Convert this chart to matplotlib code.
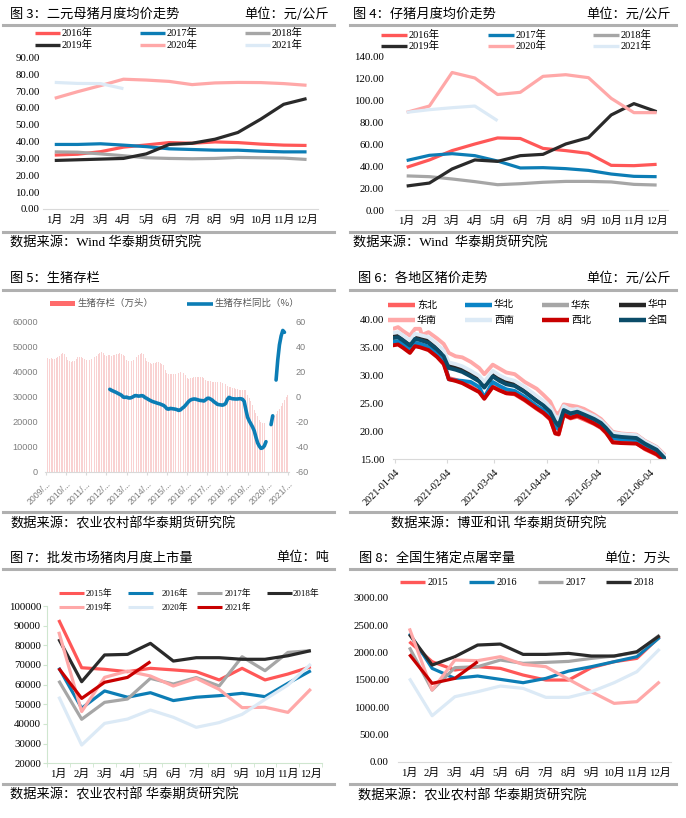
import numpy as np
import pandas as pd
import matplotlib
matplotlib.use("Agg")
import matplotlib.pyplot as plt
from matplotlib.lines import Line2D
from matplotlib.patches import Rectangle

plt.rcParams["font.family"] = ["Liberation Serif", "Noto Sans CJK SC"]
plt.rcParams["axes.unicode_minus"] = False

# ---------------- 数据 ----------------
months = ["1月", "2月", "3月", "4月", "5月", "6月", "7月", "8月", "9月", "10月", "11月", "12月"]

# 图3 二元母猪月度均价 (元/公斤)
sow_2016 = [32.0, 32.5, 34.0, 36.7, 38.0, 39.4, 39.0, 39.8, 39.4, 38.5, 37.9, 37.7]
sow_2017 = [38.3, 38.3, 38.7, 37.9, 37.0, 35.7, 35.3, 34.9, 34.9, 34.3, 33.9, 33.9]
sow_2018 = [33.9, 33.7, 32.7, 31.6, 30.4, 30.0, 29.8, 30.0, 30.6, 30.4, 30.2, 29.4]
sow_2019 = [28.8, 29.2, 29.6, 30.0, 32.7, 38.3, 39.0, 41.4, 45.4, 53.3, 62.1, 65.5]
sow_2020 = [65.7, 69.6, 73.2, 77.0, 76.5, 75.7, 73.8, 74.8, 75.1, 75.0, 74.4, 73.4]
sow_2021 = [75.1, 74.5, 74.4, 71.4]

# 图4 仔猪月度均价 (元/公斤)
piglet_2016 = [38.8, 45.5, 54.0, 60.0, 65.5, 65.0, 56.0, 54.0, 51.5, 40.6, 40.3, 41.5]
piglet_2017 = [45.0, 49.7, 51.2, 49.4, 44.5, 38.2, 38.5, 37.6, 36.0, 32.7, 30.6, 30.3]
piglet_2018 = [31.0, 30.3, 28.2, 25.8, 23.0, 23.9, 25.2, 26.0, 26.0, 25.5, 23.3, 22.7]
piglet_2019 = [21.8, 24.5, 37.3, 45.5, 44.2, 49.4, 50.6, 60.0, 65.8, 86.4, 96.7, 89.4]
piglet_2020 = [88.8, 94.5, 125.0, 120.0, 105.0, 107.0, 121.5, 123.0, 120.3, 101.5, 88.5, 88.5]
piglet_2021 = [88.8, 91.2, 93.0, 94.5, 81.2]

# 图5 生猪存栏 (万头), 2009/01 - 2021/01 月度
stock_years = list(range(2009, 2022))
stock_2009 = [45500, 45200, 44900, 45300, 45000, 44800, 45300, 45700, 46200, 46800, 47300, 47000]
stock_2010 = [45800, 44500, 43900, 43700, 43900, 44200, 44800, 45500, 45600, 45500, 45300, 44700]
stock_2011 = [44500, 44300, 44600, 44800, 45300, 45700, 46200, 46800, 47300, 47600, 47300, 46600]
stock_2012 = [46200, 46400, 46600, 46200, 46300, 46500, 46700, 47000, 47300, 47000, 46600, 45900]
stock_2013 = [44500, 43900, 44100, 44200, 44600, 45200, 45800, 46600, 47000, 47300, 46800, 45200]
stock_2014 = [43900, 43600, 43200, 43000, 43100, 43300, 43500, 43600, 43400, 43000, 42500, 40500]
stock_2015 = [39200, 39000, 38900, 38800, 38900, 39000, 39100, 39300, 39500, 39400, 39200, 38600]
stock_2016 = [37200, 37000, 37200, 37400, 37600, 37700, 37800, 37900, 37800, 37600, 37400, 36600]
stock_2017 = [36300, 36100, 36000, 35900, 35800, 35800, 35700, 35600, 35600, 35500, 35300, 34800]
stock_2018 = [34200, 33800, 33700, 33500, 33200, 33000, 32800, 32700, 32600, 32600, 32600, 32400]
stock_2019 = [30600, 29500, 28000, 26500, 24600, 23200, 22000, 20700, 19700, 19200, 19500, 20000]
stock_2020 = [np.nan, np.nan, 20500, 21200, 22100, 23000, 24000, 25000, 26200, 27400, 28600, 29700]
stock_2021 = [30400]

# 生猪存栏同比 (%)
yoy_2012 = [np.nan, np.nan, 5.6, 4.8, 4.2, 3.6, 3.0, 2.2, 1.6, 0.8, -0.6, -0.8]
yoy_2013 = [-0.6, -1.2, -1.3, -0.9, -0.2, 0.6, 0.5, 0.2, 0.3, 0.6, 0.2, -1.0]
yoy_2014 = [-1.6, -2.5, -3.2, -3.9, -4.4, -4.8, -5.3, -5.7, -6.1, -6.7, -7.2, -8.3]
yoy_2015 = [-9.9, -10.2, -9.6, -9.8, -10.0, -10.2, -10.6, -11.2, -10.8, -9.6, -8.6, -7.2]
yoy_2016 = [-5.6, -4.0, -2.9, -2.4, -2.1, -2.2, -2.6, -3.0, -3.3, -3.4, -3.7, -2.8]
yoy_2017 = [-1.6, -1.5, -2.2, -3.0, -4.3, -5.2, -6.3, -6.6, -6.8, -7.0, -6.6, -5.6]
yoy_2018 = [-2.4, -0.8, -1.5, -1.9, -2.0, -2.1, -2.1, -1.9, -1.9, -2.3, -4.0, -10.5]
yoy_2019 = [-16.5, -19.5, -22.0, -24.4, -27.5, -32.5, -37.0, -39.6, -41.4, -41.0, -39.5, -36.1]
yoy_2020 = [np.nan, np.nan, -22.5, -15.5, np.nan, 13.0, 29.0, 41.0, 48.0, 52.5, 51.0, np.nan]
yoy_2021 = [np.nan]

# 图6 各地区猪价 (元/公斤), 自2021-01-04起的天数
region_days = [0, 2, 5, 9, 12, 15, 16, 20, 25, 29, 32, 36, 40, 45, 50, 53, 58, 62, 66, 71,
               77, 84, 88, 92, 95, 97, 100, 104, 108, 112, 118, 122, 125, 129, 134, 143, 148, 155, 160]
price_dongbei = [35.6, 35.7, 35.1, 34.2, 35.4, 35.2, 35.1, 34.7, 33.5, 32.2, 29.5, 29.2, 28.8, 28.0, 27.1, 26.0, 28.0, 27.4, 26.8, 26.6,
                 25.5, 24.0, 23.2, 22.1, 19.7, 19.4, 22.9, 22.3, 22.6, 22.1, 21.3, 20.6, 19.7, 18.3, 18.0, 17.9, 16.8, 15.8, 14.6]
price_huabei = [36.0, 36.1, 35.5, 34.6, 35.8, 35.6, 35.5, 35.1, 33.8, 32.4, 29.3, 29.1, 29.0, 28.8, 27.9, 26.0, 28.8, 28.1, 27.5, 27.2,
                26.1, 24.5, 23.8, 22.8, 20.8, 20.4, 23.2, 22.6, 22.9, 22.5, 21.8, 21.1, 20.2, 18.8, 18.6, 18.4, 17.5, 16.4, 15.0]
price_huadong = [37.3, 37.4, 36.8, 35.9, 37.1, 36.9, 36.8, 36.4, 35.2, 34.0, 31.8, 31.5, 31.1, 30.3, 29.4, 28.3, 30.3, 29.5, 28.9, 28.6,
                 27.5, 25.9, 25.1, 24.0, 22.1, 21.4, 24.2, 23.6, 23.9, 23.4, 22.6, 21.9, 21.0, 19.8, 19.5, 19.3, 18.2, 17.1, 15.5]
price_huazhong = [37.1, 37.2, 36.6, 35.7, 36.9, 36.7, 36.6, 36.2, 35.0, 33.8, 31.7, 31.4, 31.0, 30.2, 29.3, 28.2, 30.2, 29.4, 28.8, 28.5,
                  27.4, 25.8, 25.0, 23.9, 22.0, 21.3, 24.1, 23.5, 23.8, 23.3, 22.5, 21.8, 20.9, 19.5, 19.3, 19.1, 18.0, 16.9, 15.3]
price_huanan = [38.4, 38.6, 37.9, 37.1, 38.3, 38.3, 37.2, 37.7, 36.6, 35.6, 34.0, 33.4, 33.2, 32.4, 31.3, 30.2, 31.9, 31.2, 30.5, 30.2,
                28.8, 27.6, 26.5, 25.3, 23.4, 23.1, 24.8, 24.6, 24.4, 24.0, 23.0, 22.2, 21.2, 19.9, 19.6, 19.4, 18.3, 17.2, 15.7]
price_xinan = [37.6, 37.7, 37.1, 36.2, 37.4, 37.2, 37.1, 36.8, 35.6, 34.4, 32.3, 32.0, 31.6, 30.8, 29.9, 28.8, 30.8, 30.0, 29.4, 29.0,
               27.9, 26.3, 25.4, 24.3, 22.6, 22.0, 24.5, 23.8, 24.0, 23.5, 22.7, 21.9, 21.0, 19.7, 19.5, 19.3, 18.2, 17.1, 15.5]
price_xibei = [35.4, 35.5, 34.9, 34.0, 35.2, 35.0, 34.9, 34.5, 33.3, 32.0, 29.3, 29.0, 28.6, 27.8, 27.0, 25.8, 27.9, 27.3, 26.8, 26.7,
               25.6, 24.1, 23.3, 22.2, 19.6, 19.5, 23.0, 22.4, 22.8, 22.3, 21.4, 20.7, 19.8, 18.0, 17.9, 17.8, 16.9, 15.9, 14.7]
price_national = [36.7, 36.8, 36.2, 35.3, 36.5, 36.3, 36.2, 35.8, 34.6, 33.4, 31.3, 31.0, 30.6, 29.8, 28.9, 27.8, 29.8, 29.0, 28.4, 28.1,
                  27.0, 25.4, 24.6, 23.5, 21.7, 21.0, 23.8, 23.2, 23.5, 23.0, 22.2, 21.5, 20.6, 19.2, 19.0, 18.8, 17.8, 16.7, 15.1]

# 图7 批发市场猪肉月度上市量 (吨)
pork_2015 = [92900, 68600, 67800, 66600, 68300, 67500, 66600, 62400, 68300, 62400, 65400, 69100]
pork_2016 = [68600, 48000, 56800, 53600, 55900, 51900, 53600, 54400, 55600, 53900, 60700, 67100]
pork_2017 = [62000, 42400, 51000, 52700, 63200, 60300, 63600, 59300, 74200, 67100, 76400, 77300]
pork_2018 = [83200, 61500, 75100, 75400, 81000, 72000, 73700, 73700, 72900, 72900, 74700, 77300]
pork_2019 = [86900, 46300, 63700, 66900, 64400, 59300, 63200, 57600, 48300, 48500, 45900, 57800]
pork_2020 = [53900, 29300, 40300, 42500, 47100, 43400, 38300, 40700, 44900, 52500, 59800, 70500]
pork_2021 = [68300, 53000, 61200, 63700, 71700]

# 图8 全国生猪定点屠宰量 (万头)
slaughter_2015 = [2195, 1829, 1677, 1738, 1707, 1585, 1494, 1494, 1720, 1829, 1890, 2287]
slaughter_2016 = [2348, 1707, 1524, 1567, 1506, 1445, 1524, 1658, 1738, 1829, 1921, 2274]
slaughter_2017 = [2091, 1311, 1720, 1738, 1860, 1799, 1817, 1835, 1890, 1933, 2000, 2317]
slaughter_2018 = [2329, 1768, 1921, 2134, 2152, 1963, 1963, 1982, 1933, 1933, 2012, 2305]
slaughter_2019 = [2439, 1311, 1860, 1848, 1921, 1780, 1738, 1506, 1280, 1067, 1098, 1463]
slaughter_2020 = [1524, 841, 1189, 1280, 1384, 1341, 1177, 1177, 1280, 1445, 1646, 2061]
slaughter_2021 = [1963, 1433, 1524, 1829]

# ---------------- 样式 ----------------
RED = "#FF5757"
BLUE = "#0C7DB5"
GRAY = "#A6A6A6"
BLACK = "#2A2A2A"
PINK = "#FFA8A8"
LBLUE = "#DCEAF6"
DRED = "#C80000"
NAVY = "#0B4C69"
RULE = "#B0B0B0"
AXIS = "#D9D9D9"
CJK = ["Noto Sans CJK SC"]
SANS = ["Liberation Sans", "Noto Sans CJK SC"]

W, H = 686, 818
fig = plt.figure(figsize=(W / 100, H / 100), dpi=100)
fig.patch.set_facecolor("white")


def add_ax(l, t, r, b):
    return fig.add_axes([l / W, 1 - b / H, (r - l) / W, (b - t) / H])


def rule(x0, x1, y):
    fig.add_artist(Line2D([x0 / W, x1 / W], [1 - y / H] * 2, color=RULE, lw=2.2))


def txt(x, y, s, size, ha="left", **kw):
    fig.text(x / W, 1 - y / H, s, fontsize=size, ha=ha, va="center", **kw)


def leg_line(x0, x1, y, color, lw=2.4):
    fig.add_artist(Line2D([x0 / W, x1 / W], [1 - y / H] * 2, color=color, lw=lw,
                          solid_capstyle="butt"))


def header(x0, x1, title, unit, y_title, y_rule, src, x_src, y_src, y_rule2, x_title=None):
    txt(x_title if x_title else x0 + 7, y_title, title, 9.5, family=CJK)
    if unit:
        txt(x1 - 5, y_title, unit, 9.5, ha="right", family=CJK)
    rule(x0, x1, y_rule)
    rule(x0, x1, y_rule2)
    txt(x_src, y_src, src, 9.5)


def month_axes(rect, series, ylim, yticks, fmt, ypad, xpad=4.5):
    ax = add_ax(*rect)
    for vals, col in series:
        ax.plot(range(len(vals)), vals, color=col, lw=2.3, solid_joinstyle="round",
                solid_capstyle="butt", clip_on=False)
    ax.set_xlim(-0.5, 11.5)
    ax.set_ylim(*ylim)
    ax.set_yticks(yticks)
    ax.set_yticklabels([fmt.format(v) for v in yticks], fontsize=7.8)
    ax.set_xticks(range(12))
    ax.set_xticklabels(months, fontsize=7.8)
    for s in ["top", "right", "left"]:
        ax.spines[s].set_visible(False)
    ax.spines["bottom"].set_color(AXIS)
    ax.tick_params(length=0)
    ax.tick_params(axis="y", pad=ypad)
    ax.tick_params(axis="x", pad=xpad)
    ax.set_facecolor("none")
    return ax


# ---------- 图3 ----------
header(3, 334, "图 3：二元母猪月度均价走势", "单位：元/公斤", 14, 24.5,
       "数据来源：Wind 华泰期货研究院", 10, 243, 232)
for (lx, ty), lab, col in zip([(35, 33), (140, 33), (245, 33), (35, 45), (140, 45), (245, 45)],
                             ["2016年", "2017年", "2018年", "2019年", "2020年", "2021年"],
                             [RED, BLUE, GRAY, BLACK, PINK, LBLUE]):
    leg_line(lx, lx + 25, ty, col)
    txt(lx + 27, ty, lab, 7.5)
month_axes((43.3, 57.3, 318, 209),
           [(sow_2016, RED), (sow_2017, BLUE), (sow_2018, GRAY), (sow_2019, BLACK),
            (sow_2020, PINK), (sow_2021, LBLUE)],
           (0, 90), list(range(0, 91, 10)), "{:.2f}", 2.5)

# ---------- 图4 ----------
header(350, 676, "图 4：仔猪月度均价走势", "单位：元/公斤", 14, 24.5,
       "数据来源：Wind  华泰期货研究院", 353, 243, 232, x_title=353)
for (lx, ty), lab, col in zip([(381, 35), (488, 35), (593, 35), (381, 46), (488, 46), (593, 46)],
                             ["2016年", "2017年", "2018年", "2019年", "2020年", "2021年"],
                             [RED, BLUE, GRAY, BLACK, PINK, LBLUE]):
    leg_line(lx, lx + 26, ty, col)
    txt(lx + 28, ty, lab, 7.5)
month_axes((395.3, 56, 668, 210),
           [(piglet_2016, RED), (piglet_2017, BLUE), (piglet_2018, GRAY), (piglet_2019, BLACK),
            (piglet_2020, PINK), (piglet_2021, LBLUE)],
           (0, 140), list(range(0, 141, 20)), "{:.2f}", 8)

# ---------- 图5 ----------
header(3, 334, "图 5：生猪存栏", None, 278, 290,
       "数据来源：农业农村部华泰期货研究院", 10, 524, 512)
fig.add_artist(Rectangle((50 / W, 1 - 306 / H), 25 / W, 5 / H, color="#FF6B6B", lw=0))
txt(78, 303.5, "生猪存栏（万头）", 6.8, color="#595959", family=CJK)
leg_line(187, 213, 303.5, BLUE, lw=2.6)
txt(215, 303.5, "生猪存栏同比（%）", 6.8, color="#595959", family=CJK)

stock = np.array(sum([stock_2009, stock_2010, stock_2011, stock_2012, stock_2013, stock_2014,
                      stock_2015, stock_2016, stock_2017, stock_2018, stock_2019, stock_2020,
                      stock_2021], []), dtype=float)
yoy = np.array([np.nan] * 36 + sum([yoy_2012, yoy_2013, yoy_2014, yoy_2015, yoy_2016, yoy_2017,
                                    yoy_2018, yoy_2019, yoy_2020, yoy_2021], []), dtype=float)
idx = np.arange(len(stock))
ok = ~np.isnan(stock)

ax5 = add_ax(45, 321, 288.5, 471.7)
ax5.bar(idx[ok], stock[ok], width=0.55, color="#F9D2D2", lw=0)
ax5.set_xlim(-0.6, len(stock) - 0.6)
ax5.set_ylim(0, 60000)
ax5.set_yticks(range(0, 60001, 10000))
ax5.set_yticklabels([str(v) for v in range(0, 60001, 10000)], fontsize=6.6,
                    color="#7F7F7F", family=SANS)
ax5.set_xticks(idx[::12])
ax5.set_xticklabels([f"{y}/..." for y in stock_years], fontsize=6.3, color="#7F7F7F",
                    family=SANS, rotation=45, ha="right", rotation_mode="anchor")
for s in ["top", "right", "left"]:
    ax5.spines[s].set_visible(False)
ax5.spines["bottom"].set_color(AXIS)
ax5.tick_params(axis="y", length=0, pad=5)
ax5.tick_params(axis="x", length=2.5, color=AXIS, pad=3)
ax5b = ax5.twinx()
ax5b.plot(idx, yoy, color=BLUE, lw=2.6, solid_capstyle="round", solid_joinstyle="round")
ax5b.set_ylim(-60, 60)
ax5b.set_yticks(range(-60, 61, 20))
ax5b.set_yticklabels([str(v) for v in range(-60, 61, 20)], fontsize=6.6,
                     color="#7F7F7F", family=SANS)
ax5b.tick_params(length=0, pad=5)
for s in ax5b.spines.values():
    s.set_visible(False)

# ---------- 图6 ----------
header(350, 676, "图 6：各地区猪价走势", "单位：元/公斤", 278, 290,
       "数据来源：博亚和讯 华泰期货研究院", 391, 524, 512, x_title=358)
regions = [("东北", price_dongbei, "#FF6060"), ("华北", price_huabei, "#0A84C6"),
           ("华东", price_huadong, GRAY), ("华中", price_huazhong, "#262626"),
           ("华南", price_huanan, PINK), ("西南", price_xinan, LBLUE),
           ("西北", price_xibei, DRED), ("全国", price_national, NAVY)]
leg_pos = [(388, 304.5), (465, 304.5), (542, 304.5), (619, 304.5),
           (388, 320), (465, 320), (542, 320), (619, 320)]
for (lx, ty), (lab, _, col) in zip(leg_pos, regions):
    leg_line(lx, lx + 27, ty, col, lw=3.2)
    txt(lx + 29, ty, lab, 7.2, family=CJK)

start = pd.Timestamp("2021-01-04")
dates = start + pd.to_timedelta(region_days, unit="D")
ax6 = add_ax(393, 319.3, 666, 459.3)
for lab, vals, col in regions:
    ax6.plot(dates, vals, color=col, lw=2.8, solid_joinstyle="round")
ax6.set_xlim(start - pd.Timedelta(days=1), start + pd.Timedelta(days=160.5))
ax6.set_ylim(15, 40)
ax6.set_yticks(range(15, 41, 5))
ax6.set_yticklabels([f"{v:.2f}" for v in range(15, 41, 5)], fontsize=7.8)
tick_dates = pd.to_datetime(["2021-01-04", "2021-02-04", "2021-03-04", "2021-04-04",
                             "2021-05-04", "2021-06-04"])
ax6.set_xticks(tick_dates)
ax6.set_xticklabels([d.strftime("%Y-%m-%d") for d in tick_dates], fontsize=7.3,
                    rotation=45, ha="right", rotation_mode="anchor")
for s in ["top", "right", "left"]:
    ax6.spines[s].set_visible(False)
ax6.spines["bottom"].set_color(AXIS)
ax6.tick_params(axis="y", length=0, pad=6.5)
ax6.tick_params(axis="x", length=3, color=AXIS, pad=3)

# ---------- 图7 ----------
header(3, 334, "图 7：批发市场猪肉月度上市量", "单位：吨", 558, 569,
       "数据来源：农业农村部 华泰期货研究院", 10, 795, 784)
for (lx, tx, ty), lab, col in zip(
        [(59, 86, 593.3), (128, 162, 593.3), (197, 225, 593.3), (267, 293, 593.3),
         (59, 86, 607.3), (128, 162, 607.3), (197, 225, 607.3)],
        ["2015年", "2016年", "2017年", "2018年", "2019年", "2020年", "2021年"],
        [RED, BLUE, GRAY, BLACK, PINK, LBLUE, DRED]):
    leg_line(lx, lx + 25, ty, col, lw=2.2)
    txt(tx, ty, lab, 6.3)
ax7 = month_axes((47.3, 606, 322.3, 763.3),
                 [(pork_2015, RED), (pork_2016, BLUE), (pork_2017, GRAY), (pork_2018, BLACK),
                  (pork_2019, PINK), (pork_2020, LBLUE), (pork_2021, DRED)],
                 (20000, 100000), list(range(20000, 100001, 10000)), "{:d}", 1.5, xpad=4)
ax7.spines["left"].set_visible(True)
ax7.spines["left"].set_color("#CFE6CF")
ax7.spines["bottom"].set_color("#CFE6CF")
ax7.set_xticks(np.arange(-0.5, 12, 1), minor=True)
ax7.tick_params(axis="x", which="minor", length=3, color="#CFE6CF")
ax7.tick_params(axis="y", length=3, color="#CFE6CF")

# ---------- 图8 ----------
header(350, 676, "图 8：全国生猪定点屠宰量", "单位：万头", 558, 569,
       "数据来源：农业农村部 华泰期货研究院", 358, 795.7, 784.3, x_title=359)
for lx, lab, col in zip([400, 469, 538, 606], ["2015", "2016", "2017", "2018"],
                        [RED, BLUE, GRAY, BLACK]):
    leg_line(lx, lx + 25, 582.3, col, lw=2.4)
    txt(lx + 28, 582.3, lab, 7.5)
month_axes((398, 597.7, 671, 761.7),
           [(slaughter_2015, RED), (slaughter_2016, BLUE), (slaughter_2017, GRAY),
            (slaughter_2018, BLACK), (slaughter_2019, PINK), (slaughter_2020, LBLUE),
            (slaughter_2021, DRED)],
           (0, 3000), list(range(0, 3001, 500)), "{:.2f}", 6.5)

fig.savefig("out.png", dpi=100, facecolor="white")
